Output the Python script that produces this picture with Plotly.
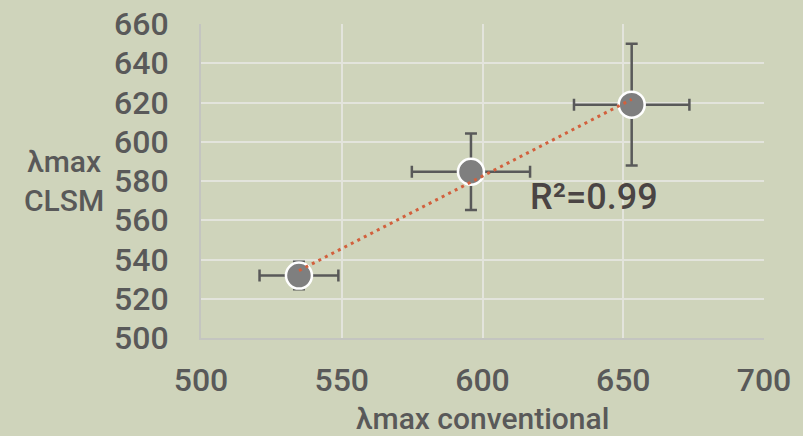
import numpy as np
import plotly.graph_objects as go

# Peak wavelengths (nm): conventional measurement vs. CLSM measurement
lambda_conventional = [534.8, 595.9, 653.0]
lambda_conventional_err = [14, 21, 20.5]
lambda_clsm = [531.8, 584.7, 618.9]
lambda_clsm_err = [7, 19.5, 31]
r_squared_label = "R²=0.99"

x_ticks = [500, 550, 600, 650, 700]
y_ticks = [500, 520, 540, 560, 580, 600, 620, 640, 660]

BG = "rgb(207,212,187)"
TEXT = "#595959"
FONT = "Roboto"

# Linear trendline across the measured range
slope, intercept = np.polyfit(lambda_conventional, lambda_clsm, 1)
trend_x = [min(lambda_conventional), max(lambda_conventional)]
trend_y = [slope * v + intercept for v in trend_x]

fig = go.Figure()

fig.add_trace(go.Scatter(
    x=lambda_conventional, y=lambda_clsm,
    mode="markers",
    marker=dict(size=26, color="#7f7f7f", line=dict(color="white", width=2.5)),
    error_x=dict(type="data", array=lambda_conventional_err, color=TEXT,
                 thickness=2.5, width=6),
    error_y=dict(type="data", array=lambda_clsm_err, color=TEXT,
                 thickness=2.5, width=6),
    showlegend=False,
))

fig.add_trace(go.Scatter(
    x=trend_x, y=trend_y,
    mode="lines",
    line=dict(color="#d2603d", width=3, dash="3px,4.3px"),
    showlegend=False,
))

fig.add_annotation(
    x=639.6, y=571.6, xref="x", yref="y",
    text=r_squared_label, showarrow=False,
    font=dict(family=FONT, size=36, color="#4a4444", weight=500),
)

# Two-line, horizontal y-axis title placed in the left margin
fig.add_annotation(
    x=-(201 - 64) / (764 - 201), y=0.5, xref="paper", yref="paper",
    xanchor="center", yanchor="middle",
    text="λmax<br>CLSM", showarrow=False,
    font=dict(family=FONT, size=30, color=TEXT, weight=500),
)

# x-axis title as a centred annotation below the tick labels
fig.add_annotation(
    x=0.5, y=-(418 - 338) / (338 - 24), xref="paper", yref="paper",
    xanchor="center", yanchor="middle",
    text="λmax conventional", showarrow=False,
    font=dict(family=FONT, size=30, color=TEXT, weight=500),
)

axis_common = dict(
    showgrid=True, gridcolor="#e3e4dc", gridwidth=2,
    showline=True, linecolor="#c4c5c0", linewidth=2,
    zeroline=False, automargin=False,
    ticks="outside", tickcolor="rgba(0,0,0,0)",
    tickfont=dict(family=FONT, size=32, color=TEXT, weight=500),
)

fig.update_xaxes(range=[500, 700], tickvals=x_ticks, ticklen=13, **axis_common)
fig.update_yaxes(range=[500, 660], tickvals=y_ticks, ticklen=24, **axis_common)

fig.update_layout(
    width=803, height=436,
    margin=dict(l=201, r=39, t=24, b=98),
    paper_bgcolor=BG, plot_bgcolor=BG,
    font=dict(family=FONT, color=TEXT),
)

fig.write_html("out.html")
